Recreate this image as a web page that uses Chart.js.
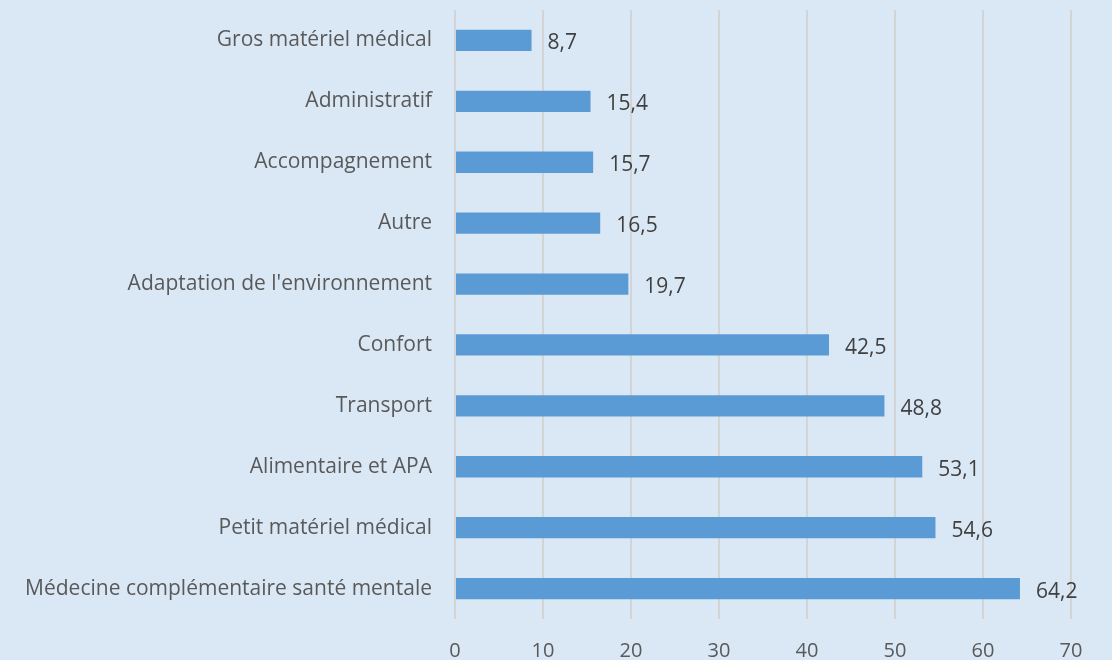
<!DOCTYPE html>
<html>
<head>
<meta charset="utf-8">
<script src="https://cdn.jsdelivr.net/npm/chart.js@4.4.1/dist/chart.umd.min.js"></script>
<style>
    html, body { margin: 0; padding: 0; background: #DAE8F6; }
    #wrap { width: 1112px; height: 660px; }
</style>
</head>
<body>
<div id="wrap"><canvas id="barChart" width="1112" height="660"></canvas></div>
<script>
var categories = [
    "Gros matériel médical",
    "Administratif",
    "Accompagnement",
    "Autre",
    "Adaptation de l'environnement",
    "Confort",
    "Transport",
    "Alimentaire et APA",
    "Petit matériel médical",
    "Médecine complémentaire santé mentale"
];
var values = [8.7, 15.4, 15.7, 16.5, 19.7, 42.5, 48.8, 53.1, 54.6, 64.2];
var xTicks = [0, 10, 20, 30, 40, 50, 60, 70];

var fontFamily = "'Open Sans', 'Noto Sans', sans-serif";

// value labels at the end of each bar, French decimal comma
var valueLabels = {
    id: "valueLabels",
    afterDatasetsDraw: function (chart) {
        var ctx = chart.ctx;
        var meta = chart.getDatasetMeta(0);
        ctx.save();
        ctx.font = "21px " + fontFamily;
        ctx.fillStyle = "#404040";
        ctx.textAlign = "left";
        ctx.textBaseline = "middle";
        meta.data.forEach(function (bar, i) {
            ctx.fillText(values[i].toFixed(1).replace(".", ","), bar.x + 16, bar.y + 3);
        });
        ctx.restore();
    }
};

var barChart = new Chart(document.getElementById("barChart"), {
    type: "bar",
    data: {
        labels: categories,
        datasets: [
            {
                data: values,
                backgroundColor: "#5B9BD5",
                borderWidth: 0,
                barPercentage: 0.35,
                categoryPercentage: 1
            }
        ]
    },
    options: {
        indexAxis: "y",
        responsive: false,
        animation: false,
        layout: { padding: { top: 10, right: 41, bottom: 0, left: 0 } },
        plugins: {
            legend: { display: false },
            tooltip: { enabled: false }
        },
        scales: {
            x: {
                min: 0,
                max: 70,
                afterBuildTicks: function (axis) {
                    axis.ticks = xTicks.map(function (v) { return { value: v }; });
                },
                afterFit: function (axis) {
                    axis.height = 41;
                    axis.paddingLeft = 0;
                    axis.paddingRight = 0;
                },
                grid: { color: "#D4D4D4", lineWidth: 2, drawTicks: false },
                border: { display: false },
                ticks: {
                    color: "#595959",
                    font: { family: fontFamily, size: 20 },
                    padding: 20
                }
            },
            y: {
                afterFit: function (axis) {
                    axis.width = 455;
                    axis.paddingTop = 0;
                    axis.paddingBottom = 0;
                },
                grid: { display: false },
                border: { display: false },
                ticks: {
                    color: "#595959",
                    font: { family: fontFamily, size: 21 },
                    padding: 15
                }
            }
        }
    },
    plugins: [valueLabels]
});
</script>
</body>
</html>
